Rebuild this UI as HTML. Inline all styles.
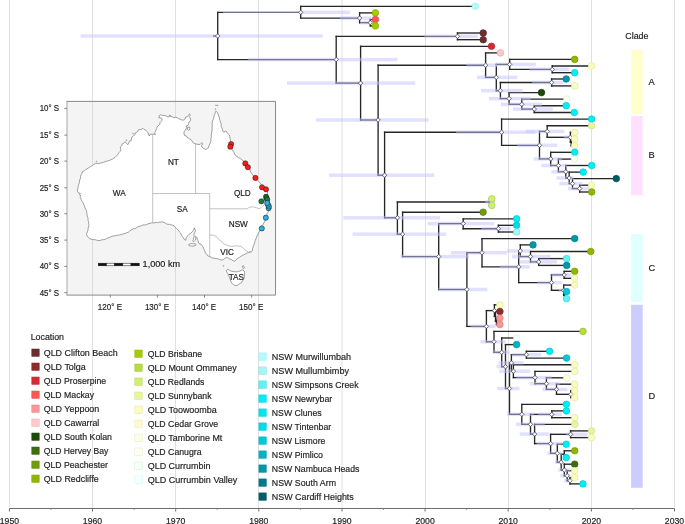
<!DOCTYPE html><html><head><meta charset="utf-8"><style>html,body{margin:0;padding:0;background:#fff;}svg{display:block;will-change:transform;}text{font-family:"Liberation Sans",sans-serif;fill:#222;stroke:#222;stroke-width:0.18px;}</style></head><body>
<svg width="685" height="524" viewBox="0 0 685 524">
<g stroke="#e0e0e0" stroke-width="1" shape-rendering="crispEdges">
<line x1="9.5" y1="0" x2="9.5" y2="508"/>
<line x1="92.5" y1="0" x2="92.5" y2="508"/>
<line x1="175.5" y1="0" x2="175.5" y2="508"/>
<line x1="258.5" y1="0" x2="258.5" y2="508"/>
<line x1="425.5" y1="0" x2="425.5" y2="508"/>
<line x1="508.5" y1="0" x2="508.5" y2="508"/>
<line x1="591.5" y1="0" x2="591.5" y2="508"/>
<line x1="674.5" y1="0" x2="674.5" y2="508"/>
</g>
<line x1="342.0" y1="0" x2="342.0" y2="508" stroke="#e0e0e0" stroke-width="1"/>
<rect x="67.0" y="101.4" width="208.5" height="193.70000000000002" fill="#f3f3f3" fill-opacity="0.9"/>
<g stroke="#dcdcdc" stroke-width="1" shape-rendering="crispEdges">
<line x1="92.5" y1="101.4" x2="92.5" y2="295.1"/>
<line x1="175.5" y1="101.4" x2="175.5" y2="295.1"/>
<line x1="258.5" y1="101.4" x2="258.5" y2="295.1"/>
</g>
<path d="M89.9,238.8 L88.5,237.5 L87.2,236.1 L86.7,234.8 L86.7,233.4 L87.5,231.6 L88.1,229.8 L88.0,228.4 L88.6,227.1 L88.7,225.7 L89.0,224.3 L88.5,223.0 L88.6,221.6 L88.0,220.3 L88.1,218.9 L87.8,217.4 L87.2,216.0 L87.0,214.6 L86.9,213.1 L86.7,211.6 L86.4,210.2 L85.4,209.0 L84.9,207.6 L84.5,206.2 L83.9,204.8 L83.4,203.4 L82.5,202.1 L81.8,200.8 L81.1,199.6 L80.9,198.2 L80.0,197.1 L80.6,195.4 L79.3,194.6 L80.4,193.3 L78.6,193.0 L77.7,191.6 L77.3,189.9 L78.0,188.2 L78.2,186.3 L78.7,184.4 L79.4,182.6 L79.5,181.0 L79.9,179.5 L80.5,178.1 L80.7,176.3 L81.2,174.5 L82.0,173.2 L82.3,171.8 L84.5,170.8 L85.6,169.7 L86.9,169.0 L88.1,168.1 L89.3,167.5 L90.4,166.7 L91.6,166.1 L92.7,165.4 L93.9,164.2 L95.4,163.6 L97.2,163.3 L99.0,163.6 L100.4,163.0 L102.0,162.9 L103.5,162.3 L105.0,161.8 L106.5,161.2 L108.1,160.9 L109.6,160.4 L111.1,159.7 L112.6,159.1 L113.7,158.1 L115.1,157.4 L116.2,156.3 L117.4,155.1 L118.3,153.8 L119.0,152.6 L120.0,151.6 L120.8,150.5 L120.6,148.7 L120.3,147.0 L121.7,145.9 L122.0,144.1 L123.7,143.3 L124.9,141.8 L126.7,143.5 L127.8,144.7 L129.0,142.4 L129.5,141.0 L131.3,140.6 L131.4,138.9 L131.6,137.4 L132.8,136.5 L133.7,135.4 L135.0,134.7 L135.2,133.0 L136.6,132.4 L137.8,131.4 L138.4,129.8 L140.1,129.5 L141.7,129.2 L143.0,128.4 L144.2,129.7 L145.9,130.1 L147.0,131.6 L148.3,133.0 L148.3,134.8 L149.5,136.0 L150.0,134.2 L152.6,134.2 L154.0,134.2 L155.3,134.8 L154.7,132.4 L155.6,131.2 L156.0,129.9 L156.6,128.6 L157.0,127.2 L157.7,126.0 L159.0,125.2 L159.9,124.1 L160.0,122.5 L161.1,121.3 L162.3,120.2 L161.7,118.4 L160.3,117.8 L158.8,117.8 L159.4,115.5 L160.9,114.6 L162.5,115.7 L164.1,115.3 L166.4,116.1 L167.8,116.7 L169.3,116.7 L169.9,114.9 L170.5,116.5 L172.2,116.7 L173.9,117.6 L175.7,117.3 L177.6,117.8 L179.2,119.0 L180.8,119.4 L182.2,120.2 L183.8,119.9 L185.1,119.0 L185.6,117.2 L187.4,116.7 L188.5,115.2 L189.7,113.8 L190.0,115.4 L189.2,116.7 L190.2,117.9 L190.7,119.2 L190.3,120.8 L189.0,122.0 L188.6,123.7 L187.9,125.3 L186.2,126.0 L186.5,127.4 L186.1,128.8 L185.7,130.1 L184.2,131.2 L183.9,133.0 L184.5,135.4 L186.4,136.0 L187.4,137.7 L188.6,138.2 L189.7,139.0 L190.9,139.5 L192.0,140.9 L192.7,142.4 L194.0,143.3 L195.5,143.8 L197.8,144.4 L200.2,144.4 L201.9,142.6 L202.5,143.8 L201.4,146.1 L202.4,147.5 L203.7,148.5 L206.0,149.6 L207.1,148.6 L208.4,147.9 L208.9,146.3 L209.4,144.7 L210.1,143.2 L210.7,141.8 L211.0,140.4 L210.8,138.8 L211.3,137.4 L211.2,135.9 L211.4,134.4 L211.6,133.0 L211.9,131.5 L212.0,130.0 L212.2,128.6 L212.1,127.1 L212.4,125.7 L212.1,124.3 L212.3,123.0 L212.4,121.6 L212.9,120.1 L213.6,118.7 L213.9,117.0 L214.2,115.2 L215.1,113.6 L215.4,111.7 L215.9,111.1 L217.7,112.8 L218.2,114.6 L218.9,116.4 L219.3,117.7 L219.6,119.1 L220.0,120.4 L220.3,122.0 L221.1,123.5 L221.2,125.1 L221.3,126.5 L221.8,127.9 L222.4,129.2 L222.7,130.7 L223.5,132.1 L224.8,131.7 L225.9,130.9 L226.8,132.1 L227.6,133.3 L229.4,135.0 L229.8,136.7 L230.0,138.5 L230.5,140.2 L230.5,142.0 L230.6,143.6 L231.2,145.1 L231.1,146.7 L232.0,148.4 L232.3,150.2 L233.6,151.9 L234.3,153.0 L234.6,154.3 L235.9,155.3 L236.9,156.7 L238.7,157.6 L240.3,158.6 L241.9,159.6 L243.1,161.0 L244.6,162.2 L245.5,163.8 L246.6,164.6 L247.6,165.5 L248.4,166.7 L249.1,168.1 L250.0,169.4 L250.3,171.0 L251.0,172.6 L252.2,173.9 L252.9,175.2 L254.0,176.3 L254.6,177.7 L255.7,178.5 L256.6,179.6 L257.5,180.6 L258.7,181.6 L259.9,182.6 L260.8,183.9 L261.8,185.1 L262.8,186.1 L264.2,186.8 L265.6,188.0 L267.0,189.2 L267.3,190.6 L267.5,192.0 L267.5,193.7 L267.0,195.4 L267.6,197.7 L268.2,199.0 L268.3,200.3 L268.5,201.7 L268.9,203.0 L268.7,204.4 L269.1,205.7 L269.2,207.4 L268.9,209.0 L268.7,210.8 L267.8,212.4 L267.0,213.6 L266.8,215.1 L266.4,216.4 L266.2,217.8 L265.5,219.1 L265.1,220.4 L264.7,221.9 L263.7,223.1 L263.1,224.4 L262.1,225.4 L261.5,226.6 L261.0,227.9 L260.4,229.1 L259.9,230.5 L259.2,231.8 L258.4,233.1 L257.9,234.7 L256.9,236.1 L256.4,237.7 L255.9,239.0 L255.2,240.3 L255.0,241.8 L254.4,243.1 L254.2,244.5 L253.3,245.7 L253.1,247.1 L252.5,248.7 L252.6,250.4 L251.1,251.7 L249.7,251.9 L248.5,252.6 L247.0,253.1 L245.5,253.8 L244.2,254.7 L242.4,255.4 L240.8,256.4 L239.7,257.3 L238.5,257.9 L237.3,258.6 L236.1,260.0 L234.8,261.2 L232.9,260.6 L231.3,259.5 L229.9,259.1 L228.7,258.2 L227.4,257.9 L226.2,257.3 L224.5,258.6 L223.3,259.5 L221.9,260.1 L220.6,259.7 L219.3,259.5 L218.0,258.8 L216.4,258.7 L215.0,258.2 L212.5,258.1 L211.1,257.1 L209.5,256.6 L207.5,255.6 L206.6,253.9 L205.1,252.7 L204.9,251.1 L204.1,249.7 L203.5,248.2 L203.1,246.7 L201.9,245.6 L201.1,244.2 L199.8,243.9 L198.6,243.2 L198.1,240.8 L197.4,239.4 L197.1,237.8 L195.6,236.3 L195.8,238.1 L195.6,239.8 L194.6,240.7 L193.7,241.7 L192.7,240.8 L193.5,239.4 L193.7,237.8 L194.1,236.5 L194.0,235.1 L194.1,233.8 L194.9,232.3 L195.6,230.8 L195.0,229.3 L194.1,227.9 L193.9,229.4 L193.2,230.8 L191.9,232.0 L190.7,233.3 L189.3,234.1 L188.2,235.3 L187.0,236.4 L186.2,237.8 L185.7,240.3 L184.2,239.3 L183.3,237.7 L182.2,236.3 L181.5,234.8 L180.8,233.3 L179.6,232.2 L178.8,230.8 L177.7,229.5 L176.3,228.4 L175.2,227.2 L174.3,225.9 L172.9,225.2 L171.3,224.9 L169.6,224.3 L167.9,224.4 L166.5,223.8 L165.2,223.1 L163.9,222.4 L162.6,222.0 L161.2,222.0 L159.9,222.1 L158.6,222.4 L157.3,222.6 L156.0,222.4 L154.4,222.9 L152.7,222.9 L151.3,222.9 L150.0,223.4 L148.4,223.7 L146.9,224.4 L145.6,225.0 L144.1,224.8 L142.8,225.1 L141.5,225.6 L140.2,226.2 L138.8,226.4 L137.4,227.0 L136.2,228.0 L134.9,228.7 L133.3,228.8 L132.0,229.6 L130.7,230.4 L129.3,231.4 L128.0,232.5 L126.6,232.7 L125.3,233.4 L123.9,233.6 L122.6,234.3 L121.2,234.3 L119.9,234.9 L118.5,235.1 L117.1,235.2 L115.6,235.6 L114.1,236.0 L112.6,236.1 L111.1,236.6 L109.7,237.5 L108.1,237.9 L106.6,238.6 L105.1,239.3 L103.5,239.7 L101.9,239.7 L100.5,240.4 L99.0,240.6 L97.6,240.4 L96.3,240.1 L95.0,239.6 L93.6,239.7 L91.7,239.3 Z" fill="#fff" stroke="#555" stroke-width="0.55"/>
<path d="M226.6,270.2 L227.9,269.3 L230.0,270.6 L231.4,271.3 L233.0,271.5 L234.7,271.7 L236.5,271.9 L238.2,271.5 L239.9,271.0 L241.2,270.4 L242.5,269.8 L244.2,271.0 L244.6,272.7 L244.6,274.5 L244.4,276.0 L244.2,277.5 L243.5,279.3 L242.5,280.9 L241.8,282.2 L240.8,283.1 L239.4,283.8 L238.2,284.8 L237.0,285.4 L235.6,285.7 L233.5,284.8 L231.8,283.1 L231.1,281.8 L230.5,280.5 L230.2,279.2 L229.7,277.9 L229.2,276.6 L228.5,275.1 L227.9,273.6 L226.6,271.9 Z" fill="#fff" stroke="#555" stroke-width="0.55"/>
<path d="M188.5,244.6 L189.8,244.1 L191.0,243.6 L192.3,243.7 L193.7,243.8 L195.0,243.7 L196.2,244.8 L194.7,245.6 L193.0,246.1 L191.3,246.0 L189.5,245.9 Z" fill="#fff" stroke="#555" stroke-width="0.55"/>
<path d="M242.3,266.2 L243.6,265.8 L244.4,267.8 L243.4,268.6 L242.7,267.5 Z" fill="#fff" stroke="#555" stroke-width="0.55"/>
<path d="M187.6,127.3 L189.6,127.0 L190.0,129.2 L188.4,130.4 L187.4,129.2 Z" fill="#fff" stroke="#555" stroke-width="0.55"/>
<circle cx="215.4" cy="109.1" r="0.45" fill="none" stroke="#666" stroke-width="0.45"/>
<circle cx="216.0" cy="105.3" r="0.45" fill="none" stroke="#666" stroke-width="0.45"/>
<circle cx="217.5" cy="105.4" r="0.45" fill="none" stroke="#666" stroke-width="0.45"/>
<circle cx="126.5" cy="140.2" r="0.45" fill="none" stroke="#666" stroke-width="0.45"/>
<circle cx="133.0" cy="133.3" r="0.45" fill="none" stroke="#666" stroke-width="0.45"/>
<circle cx="96.5" cy="161.4" r="0.45" fill="none" stroke="#666" stroke-width="0.45"/>
<circle cx="223.6" cy="265.9" r="0.45" fill="none" stroke="#666" stroke-width="0.45"/>
<path d="M152.7,134.2 L152.7,222.9" fill="none" stroke="#9a9a9a" stroke-width="0.6"/>
<path d="M152.7,193.5 L209.7,193.5" fill="none" stroke="#9a9a9a" stroke-width="0.6"/>
<path d="M195.6,143.8 L195.6,193.5" fill="none" stroke="#9a9a9a" stroke-width="0.6"/>
<path d="M209.7,193.5 L209.7,256.8" fill="none" stroke="#9a9a9a" stroke-width="0.6"/>
<path d="M209.7,208.8 L247.1,208.8 L249.1,207.3 L253.1,206.8 L256.4,207.7 L259.1,208.8 L261.1,207.7 L262.4,206.4 L264.5,204.5" fill="none" stroke="#9a9a9a" stroke-width="0.6"/>
<path d="M209.7,235.1 L213.0,235.1 L216.4,236.4 L218.4,239.1 L221.0,241.1 L223.7,243.8 L227.7,245.5 L231.7,246.4 L237.1,245.8 L241.1,246.4 L243.7,248.4 L246.4,251.1 L249.1,252.4 L251.5,252.3" fill="none" stroke="#9a9a9a" stroke-width="0.6"/>
<text x="119.3" y="196.1" font-size="8.2" text-anchor="middle">WA</text>
<text x="173.4" y="165.2" font-size="8.2" text-anchor="middle">NT</text>
<text x="182.2" y="212.1" font-size="8.2" text-anchor="middle">SA</text>
<text x="242.3" y="196.1" font-size="8.2" text-anchor="middle">QLD</text>
<text x="238.3" y="226.9" font-size="8.2" text-anchor="middle">NSW</text>
<text x="227.1" y="255.4" font-size="8.2" text-anchor="middle">VIC</text>
<text x="236.3" y="280.2" font-size="8.2" text-anchor="middle">TAS</text>
<circle cx="231.1" cy="144.1" r="2.6" fill="#ff1a1a" stroke="#111" stroke-width="0.5"/>
<circle cx="230.3" cy="146.7" r="2.6" fill="#ff1a1a" stroke="#111" stroke-width="0.5"/>
<circle cx="245.3" cy="163.4" r="2.6" fill="#ff1a1a" stroke="#111" stroke-width="0.5"/>
<circle cx="247.9" cy="167.2" r="2.6" fill="#ff1a1a" stroke="#111" stroke-width="0.5"/>
<circle cx="255.4" cy="177.9" r="2.6" fill="#ff1a1a" stroke="#111" stroke-width="0.5"/>
<circle cx="262.0" cy="187.3" r="2.6" fill="#ff1a1a" stroke="#111" stroke-width="0.5"/>
<circle cx="266.0" cy="189.3" r="2.6" fill="#ff1a1a" stroke="#111" stroke-width="0.5"/>
<circle cx="266.0" cy="196.7" r="2.6" fill="#1e7a40" stroke="#111" stroke-width="0.5"/>
<circle cx="266.6" cy="198.2" r="2.6" fill="#1e7a40" stroke="#111" stroke-width="0.5"/>
<circle cx="267.2" cy="199.6" r="2.6" fill="#1e7a40" stroke="#111" stroke-width="0.5"/>
<circle cx="261.4" cy="201.3" r="2.6" fill="#1e7a40" stroke="#111" stroke-width="0.5"/>
<circle cx="265.8" cy="217.7" r="2.6" fill="#30aee0" stroke="#111" stroke-width="0.5"/>
<circle cx="261.8" cy="228.4" r="2.6" fill="#30aee0" stroke="#111" stroke-width="0.5"/>
<circle cx="268.6" cy="208.2" r="2.6" fill="#30aee0" stroke="#111" stroke-width="0.5"/>
<circle cx="268.9" cy="206.5" r="2.6" fill="#30aee0" stroke="#111" stroke-width="0.5"/>
<circle cx="268.0" cy="204.7" r="2.6" fill="#30aee0" stroke="#111" stroke-width="0.5"/>
<circle cx="267.2" cy="203.0" r="2.6" fill="#30aee0" stroke="#111" stroke-width="0.5"/>
<rect x="98.30" y="263.2" width="8.18" height="2.6" fill="#111" stroke="#111" stroke-width="0.5"/>
<rect x="106.48" y="263.2" width="8.18" height="2.6" fill="#fff" stroke="#111" stroke-width="0.5"/>
<rect x="114.66" y="263.2" width="8.18" height="2.6" fill="#111" stroke="#111" stroke-width="0.5"/>
<rect x="122.84" y="263.2" width="8.18" height="2.6" fill="#fff" stroke="#111" stroke-width="0.5"/>
<rect x="131.02" y="263.2" width="8.18" height="2.6" fill="#111" stroke="#111" stroke-width="0.5"/>
<text x="142.6" y="267.3" font-size="8.6" textLength="37.5" lengthAdjust="spacingAndGlyphs">1,000 km</text>
<path d="M67.0,295.1 L67.0,101.4" fill="none" stroke="#a8a8a8" stroke-width="1.0"/>
<path d="M66.5,101.4 L275.5,101.4 L275.5,295.1 L66.5,295.1" fill="none" stroke="#8a8a8a" stroke-width="1.0"/>
<line x1="64.3" y1="108.4" x2="67.0" y2="108.4" stroke="#555" stroke-width="0.7"/>
<text x="59.1" y="111.2" font-size="8.8" text-anchor="end" textLength="19.4" lengthAdjust="spacingAndGlyphs">10° S</text>
<line x1="64.3" y1="135.1" x2="67.0" y2="135.1" stroke="#555" stroke-width="0.7"/>
<text x="59.1" y="137.9" font-size="8.8" text-anchor="end" textLength="19.4" lengthAdjust="spacingAndGlyphs">15° S</text>
<line x1="64.3" y1="161.1" x2="67.0" y2="161.1" stroke="#555" stroke-width="0.7"/>
<text x="59.1" y="163.9" font-size="8.8" text-anchor="end" textLength="19.4" lengthAdjust="spacingAndGlyphs">20° S</text>
<line x1="64.3" y1="187.8" x2="67.0" y2="187.8" stroke="#555" stroke-width="0.7"/>
<text x="59.1" y="190.6" font-size="8.8" text-anchor="end" textLength="19.4" lengthAdjust="spacingAndGlyphs">25° S</text>
<line x1="64.3" y1="213.7" x2="67.0" y2="213.7" stroke="#555" stroke-width="0.7"/>
<text x="59.1" y="216.5" font-size="8.8" text-anchor="end" textLength="19.4" lengthAdjust="spacingAndGlyphs">30° S</text>
<line x1="64.3" y1="240.1" x2="67.0" y2="240.1" stroke="#555" stroke-width="0.7"/>
<text x="59.1" y="242.9" font-size="8.8" text-anchor="end" textLength="19.4" lengthAdjust="spacingAndGlyphs">35° S</text>
<line x1="64.3" y1="266.4" x2="67.0" y2="266.4" stroke="#555" stroke-width="0.7"/>
<text x="59.1" y="269.2" font-size="8.8" text-anchor="end" textLength="19.4" lengthAdjust="spacingAndGlyphs">40° S</text>
<line x1="64.3" y1="292.7" x2="67.0" y2="292.7" stroke="#555" stroke-width="0.7"/>
<text x="59.1" y="295.5" font-size="8.8" text-anchor="end" textLength="19.4" lengthAdjust="spacingAndGlyphs">45° S</text>
<line x1="110.3" y1="295.1" x2="110.3" y2="297.6" stroke="#555" stroke-width="0.7"/>
<text x="109.9" y="309.6" font-size="8.8" text-anchor="middle" textLength="24.2" lengthAdjust="spacingAndGlyphs">120° E</text>
<line x1="157.4" y1="295.1" x2="157.4" y2="297.6" stroke="#555" stroke-width="0.7"/>
<text x="157.0" y="309.6" font-size="8.8" text-anchor="middle" textLength="24.2" lengthAdjust="spacingAndGlyphs">130° E</text>
<line x1="204.5" y1="295.1" x2="204.5" y2="297.6" stroke="#555" stroke-width="0.7"/>
<text x="204.1" y="309.6" font-size="8.8" text-anchor="middle" textLength="24.2" lengthAdjust="spacingAndGlyphs">140° E</text>
<line x1="251.6" y1="295.1" x2="251.6" y2="297.6" stroke="#555" stroke-width="0.7"/>
<text x="251.2" y="309.6" font-size="8.8" text-anchor="middle" textLength="24.2" lengthAdjust="spacingAndGlyphs">150° E</text>
<g stroke="#262626" stroke-width="1.35" fill="none" stroke-linecap="square">
<line x1="213.7" y1="36" x2="217.7" y2="36"/>
<line x1="217.7" y1="12.3" x2="217.7" y2="59.6"/>
<line x1="217.7" y1="12.3" x2="300.7" y2="12.3"/>
<line x1="217.7" y1="59.6" x2="336.2" y2="59.6"/>
<line x1="300.7" y1="6.3" x2="300.7" y2="18.1"/>
<line x1="300.7" y1="6.3" x2="475.3" y2="6.3"/>
<line x1="300.7" y1="18.1" x2="359.6" y2="18.1"/>
<line x1="359.6" y1="12.9" x2="359.6" y2="22.7"/>
<line x1="359.6" y1="12.9" x2="375.4" y2="12.9"/>
<line x1="359.6" y1="22.7" x2="370.3" y2="22.7"/>
<line x1="370.3" y1="19.5" x2="370.3" y2="25.9"/>
<line x1="370.3" y1="19.5" x2="375.4" y2="19.5"/>
<line x1="370.3" y1="25.9" x2="375.4" y2="25.9"/>
<line x1="336.2" y1="36.3" x2="336.2" y2="83.1"/>
<line x1="336.2" y1="36.3" x2="457.5" y2="36.3"/>
<line x1="336.2" y1="83.1" x2="360.6" y2="83.1"/>
<line x1="457.5" y1="33.0" x2="457.5" y2="39.7"/>
<line x1="457.5" y1="33.0" x2="483.2" y2="33.0"/>
<line x1="457.5" y1="39.7" x2="483.2" y2="39.7"/>
<line x1="360.6" y1="46.3" x2="360.6" y2="120.0"/>
<line x1="360.6" y1="46.3" x2="491.5" y2="46.3"/>
<line x1="360.6" y1="120.0" x2="378.1" y2="120.0"/>
<line x1="378.1" y1="65.2" x2="378.1" y2="175.2"/>
<line x1="378.1" y1="65.2" x2="485.6" y2="65.2"/>
<line x1="378.1" y1="175.2" x2="384.6" y2="175.2"/>
<line x1="485.6" y1="52.9" x2="485.6" y2="77.4"/>
<line x1="485.6" y1="52.9" x2="500.4" y2="52.9"/>
<line x1="485.6" y1="77.4" x2="496.3" y2="77.4"/>
<line x1="496.3" y1="64.4" x2="496.3" y2="90.7"/>
<line x1="496.3" y1="64.4" x2="509.7" y2="64.4"/>
<line x1="496.3" y1="90.7" x2="500.4" y2="90.7"/>
<line x1="509.7" y1="59.4" x2="509.7" y2="69.4"/>
<line x1="509.7" y1="59.4" x2="574.7" y2="59.4"/>
<line x1="509.7" y1="69.4" x2="552.3" y2="69.4"/>
<line x1="552.3" y1="66.0" x2="552.3" y2="72.7"/>
<line x1="552.3" y1="66.0" x2="591.6" y2="66.0"/>
<line x1="552.3" y1="72.7" x2="574.7" y2="72.7"/>
<line x1="500.4" y1="82.5" x2="500.4" y2="98.6"/>
<line x1="500.4" y1="82.5" x2="551.6" y2="82.5"/>
<line x1="500.4" y1="98.6" x2="509.1" y2="98.6"/>
<line x1="551.6" y1="79.0" x2="551.6" y2="85.9"/>
<line x1="551.6" y1="79.0" x2="566.2" y2="79.0"/>
<line x1="551.6" y1="85.9" x2="574.7" y2="85.9"/>
<line x1="509.1" y1="92.6" x2="509.1" y2="104.3"/>
<line x1="509.1" y1="92.6" x2="541.5" y2="92.6"/>
<line x1="509.1" y1="104.3" x2="521.8" y2="104.3"/>
<line x1="521.8" y1="99.1" x2="521.8" y2="109.1"/>
<line x1="521.8" y1="99.1" x2="566.9" y2="99.1"/>
<line x1="521.8" y1="109.1" x2="534.3" y2="109.1"/>
<line x1="534.3" y1="105.7" x2="534.3" y2="112.5"/>
<line x1="534.3" y1="105.7" x2="566.2" y2="105.7"/>
<line x1="534.3" y1="112.5" x2="574.3" y2="112.5"/>
<line x1="384.6" y1="132.2" x2="384.6" y2="217.8"/>
<line x1="384.6" y1="132.2" x2="501.6" y2="132.2"/>
<line x1="384.6" y1="217.8" x2="397.4" y2="217.8"/>
<line x1="501.6" y1="119.1" x2="501.6" y2="145.3"/>
<line x1="501.6" y1="119.1" x2="591.6" y2="119.1"/>
<line x1="501.6" y1="145.3" x2="539.5" y2="145.3"/>
<line x1="539.5" y1="131.4" x2="539.5" y2="158.9"/>
<line x1="539.5" y1="131.4" x2="547.2" y2="131.4"/>
<line x1="539.5" y1="158.9" x2="550.7" y2="158.9"/>
<line x1="547.2" y1="125.7" x2="547.2" y2="137.3"/>
<line x1="547.2" y1="125.7" x2="591.6" y2="125.7"/>
<line x1="547.2" y1="137.3" x2="570.4" y2="137.3"/>
<line x1="570.4" y1="132.4" x2="570.4" y2="142.3"/>
<line x1="570.4" y1="132.4" x2="574.7" y2="132.4"/>
<line x1="570.4" y1="142.3" x2="571.2" y2="142.3"/>
<line x1="571.2" y1="139.0" x2="571.2" y2="145.7"/>
<line x1="571.2" y1="139.0" x2="574.7" y2="139.0"/>
<line x1="571.2" y1="145.7" x2="574.7" y2="145.7"/>
<line x1="550.7" y1="152.3" x2="550.7" y2="165.5"/>
<line x1="550.7" y1="152.3" x2="574.7" y2="152.3"/>
<line x1="550.7" y1="165.5" x2="558.4" y2="165.5"/>
<line x1="558.4" y1="159.1" x2="558.4" y2="171.8"/>
<line x1="558.4" y1="159.1" x2="574.5" y2="159.1"/>
<line x1="558.4" y1="171.8" x2="565.8" y2="171.8"/>
<line x1="565.8" y1="165.5" x2="565.8" y2="178.0"/>
<line x1="565.8" y1="165.5" x2="591.7" y2="165.5"/>
<line x1="565.8" y1="178.0" x2="569.2" y2="178.0"/>
<line x1="569.2" y1="172.1" x2="569.2" y2="183.6"/>
<line x1="569.2" y1="172.1" x2="583.2" y2="172.1"/>
<line x1="569.2" y1="183.6" x2="572.5" y2="183.6"/>
<line x1="572.5" y1="178.6" x2="572.5" y2="188.6"/>
<line x1="572.5" y1="178.6" x2="616.3" y2="178.6"/>
<line x1="572.5" y1="188.6" x2="579.7" y2="188.6"/>
<line x1="579.7" y1="185.2" x2="579.7" y2="192.0"/>
<line x1="579.7" y1="185.2" x2="591.7" y2="185.2"/>
<line x1="579.7" y1="192.0" x2="591.7" y2="192.0"/>
<line x1="397.4" y1="202.0" x2="397.4" y2="234.2"/>
<line x1="397.4" y1="202.0" x2="489.5" y2="202.0"/>
<line x1="397.4" y1="234.2" x2="402.6" y2="234.2"/>
<line x1="489.5" y1="198.7" x2="489.5" y2="205.6"/>
<line x1="489.5" y1="198.7" x2="491.8" y2="198.7"/>
<line x1="489.5" y1="205.6" x2="491.8" y2="205.6"/>
<line x1="402.6" y1="212.2" x2="402.6" y2="256.6"/>
<line x1="402.6" y1="212.2" x2="483.1" y2="212.2"/>
<line x1="402.6" y1="256.6" x2="438.7" y2="256.6"/>
<line x1="438.7" y1="223.6" x2="438.7" y2="289.5"/>
<line x1="438.7" y1="223.6" x2="463.2" y2="223.6"/>
<line x1="438.7" y1="289.5" x2="466.9" y2="289.5"/>
<line x1="463.2" y1="218.8" x2="463.2" y2="228.7"/>
<line x1="463.2" y1="218.8" x2="516.6" y2="218.8"/>
<line x1="463.2" y1="228.7" x2="498.4" y2="228.7"/>
<line x1="498.4" y1="225.3" x2="498.4" y2="232.0"/>
<line x1="498.4" y1="225.3" x2="516.6" y2="225.3"/>
<line x1="498.4" y1="232.0" x2="516.7" y2="232.0"/>
<line x1="466.9" y1="252.7" x2="466.9" y2="326.4"/>
<line x1="466.9" y1="252.7" x2="482.0" y2="252.7"/>
<line x1="466.9" y1="326.4" x2="486.4" y2="326.4"/>
<line x1="482.0" y1="238.6" x2="482.0" y2="266.8"/>
<line x1="482.0" y1="238.6" x2="574.7" y2="238.6"/>
<line x1="482.0" y1="266.8" x2="518.7" y2="266.8"/>
<line x1="518.7" y1="251.0" x2="518.7" y2="282.6"/>
<line x1="518.7" y1="251.0" x2="520.3" y2="251.0"/>
<line x1="518.7" y1="282.6" x2="551.5" y2="282.6"/>
<line x1="520.3" y1="244.9" x2="520.3" y2="256.6"/>
<line x1="520.3" y1="244.9" x2="533.0" y2="244.9"/>
<line x1="520.3" y1="256.6" x2="530.5" y2="256.6"/>
<line x1="530.5" y1="251.5" x2="530.5" y2="261.9"/>
<line x1="530.5" y1="251.5" x2="590.8" y2="251.5"/>
<line x1="530.5" y1="261.9" x2="538.7" y2="261.9"/>
<line x1="538.7" y1="258.6" x2="538.7" y2="265.4"/>
<line x1="538.7" y1="258.6" x2="566.6" y2="258.6"/>
<line x1="538.7" y1="265.4" x2="566.7" y2="265.4"/>
<line x1="551.5" y1="274.9" x2="551.5" y2="290.3"/>
<line x1="551.5" y1="274.9" x2="564.2" y2="274.9"/>
<line x1="551.5" y1="290.3" x2="563.7" y2="290.3"/>
<line x1="564.2" y1="271.3" x2="564.2" y2="278.3"/>
<line x1="564.2" y1="271.3" x2="574.7" y2="271.3"/>
<line x1="564.2" y1="278.3" x2="574.7" y2="278.3"/>
<line x1="563.7" y1="285.1" x2="563.7" y2="295.2"/>
<line x1="563.7" y1="285.1" x2="574.7" y2="285.1"/>
<line x1="563.7" y1="295.2" x2="564.5" y2="295.2"/>
<line x1="564.5" y1="291.6" x2="564.5" y2="298.7"/>
<line x1="564.5" y1="291.6" x2="566.6" y2="291.6"/>
<line x1="564.5" y1="298.7" x2="566.6" y2="298.7"/>
<line x1="486.4" y1="310.6" x2="486.4" y2="341.8"/>
<line x1="486.4" y1="310.6" x2="494.4" y2="310.6"/>
<line x1="486.4" y1="341.8" x2="494.0" y2="341.8"/>
<line x1="494.4" y1="304.8" x2="494.4" y2="316.4"/>
<line x1="494.4" y1="304.8" x2="499.9" y2="304.8"/>
<line x1="494.4" y1="316.4" x2="495.5" y2="316.4"/>
<line x1="495.5" y1="311.5" x2="495.5" y2="321.4"/>
<line x1="495.5" y1="311.5" x2="499.9" y2="311.5"/>
<line x1="495.5" y1="321.4" x2="496.5" y2="321.4"/>
<line x1="496.5" y1="318.2" x2="496.5" y2="324.6"/>
<line x1="496.5" y1="318.2" x2="499.9" y2="318.2"/>
<line x1="496.5" y1="324.6" x2="499.9" y2="324.6"/>
<line x1="494.0" y1="331.4" x2="494.0" y2="352.3"/>
<line x1="494.0" y1="331.4" x2="583.0" y2="331.4"/>
<line x1="494.0" y1="352.3" x2="501.7" y2="352.3"/>
<line x1="501.7" y1="338.0" x2="501.7" y2="366.7"/>
<line x1="501.7" y1="338.0" x2="516.8" y2="338.0"/>
<line x1="501.7" y1="366.7" x2="505.5" y2="366.7"/>
<line x1="505.5" y1="344.6" x2="505.5" y2="388.5"/>
<line x1="505.5" y1="344.6" x2="516.6" y2="344.6"/>
<line x1="505.5" y1="388.5" x2="509.5" y2="388.5"/>
<line x1="509.5" y1="362.9" x2="509.5" y2="414.3"/>
<line x1="509.5" y1="362.9" x2="511.4" y2="362.9"/>
<line x1="509.5" y1="414.3" x2="521.8" y2="414.3"/>
<line x1="511.4" y1="354.7" x2="511.4" y2="371.2"/>
<line x1="511.4" y1="354.7" x2="526.4" y2="354.7"/>
<line x1="511.4" y1="371.2" x2="513.4" y2="371.2"/>
<line x1="526.4" y1="351.3" x2="526.4" y2="358.1"/>
<line x1="526.4" y1="351.3" x2="549.6" y2="351.3"/>
<line x1="526.4" y1="358.1" x2="566.6" y2="358.1"/>
<line x1="513.4" y1="364.7" x2="513.4" y2="377.6"/>
<line x1="513.4" y1="364.7" x2="574.7" y2="364.7"/>
<line x1="513.4" y1="377.6" x2="535.0" y2="377.6"/>
<line x1="535.0" y1="371.4" x2="535.0" y2="383.7"/>
<line x1="535.0" y1="371.4" x2="574.7" y2="371.4"/>
<line x1="535.0" y1="383.7" x2="546.4" y2="383.7"/>
<line x1="546.4" y1="377.8" x2="546.4" y2="389.4"/>
<line x1="546.4" y1="377.8" x2="566.7" y2="377.8"/>
<line x1="546.4" y1="389.4" x2="556.5" y2="389.4"/>
<line x1="556.5" y1="384.2" x2="556.5" y2="394.3"/>
<line x1="556.5" y1="384.2" x2="574.7" y2="384.2"/>
<line x1="556.5" y1="394.3" x2="570.8" y2="394.3"/>
<line x1="570.8" y1="390.8" x2="570.8" y2="397.6"/>
<line x1="570.8" y1="390.8" x2="574.7" y2="390.8"/>
<line x1="570.8" y1="397.6" x2="574.7" y2="397.6"/>
<line x1="521.8" y1="404.3" x2="521.8" y2="424.3"/>
<line x1="521.8" y1="404.3" x2="566.4" y2="404.3"/>
<line x1="521.8" y1="424.3" x2="530.5" y2="424.3"/>
<line x1="530.5" y1="414.4" x2="530.5" y2="434.1"/>
<line x1="530.5" y1="414.4" x2="551.8" y2="414.4"/>
<line x1="530.5" y1="434.1" x2="534.6" y2="434.1"/>
<line x1="551.8" y1="410.9" x2="551.8" y2="417.7"/>
<line x1="551.8" y1="410.9" x2="566.4" y2="410.9"/>
<line x1="551.8" y1="417.7" x2="574.7" y2="417.7"/>
<line x1="534.6" y1="424.3" x2="534.6" y2="443.6"/>
<line x1="534.6" y1="424.3" x2="574.8" y2="424.3"/>
<line x1="534.6" y1="443.6" x2="550.6" y2="443.6"/>
<line x1="550.6" y1="434.3" x2="550.6" y2="453.3"/>
<line x1="550.6" y1="434.3" x2="570.6" y2="434.3"/>
<line x1="550.6" y1="453.3" x2="557.3" y2="453.3"/>
<line x1="570.6" y1="430.9" x2="570.6" y2="437.6"/>
<line x1="570.6" y1="430.9" x2="591.5" y2="430.9"/>
<line x1="570.6" y1="437.6" x2="591.5" y2="437.6"/>
<line x1="557.3" y1="444.2" x2="557.3" y2="462.2"/>
<line x1="557.3" y1="444.2" x2="566.2" y2="444.2"/>
<line x1="557.3" y1="462.2" x2="561.2" y2="462.2"/>
<line x1="561.2" y1="454.2" x2="561.2" y2="470.0"/>
<line x1="561.2" y1="454.2" x2="564.3" y2="454.2"/>
<line x1="561.2" y1="470.0" x2="564.3" y2="470.0"/>
<line x1="564.3" y1="450.8" x2="564.3" y2="457.6"/>
<line x1="564.3" y1="450.8" x2="574.7" y2="450.8"/>
<line x1="564.3" y1="457.6" x2="566.2" y2="457.6"/>
<line x1="564.3" y1="464.2" x2="564.3" y2="475.7"/>
<line x1="564.3" y1="464.2" x2="574.7" y2="464.2"/>
<line x1="564.3" y1="475.7" x2="567.2" y2="475.7"/>
<line x1="567.2" y1="470.7" x2="567.2" y2="480.7"/>
<line x1="567.2" y1="470.7" x2="574.7" y2="470.7"/>
<line x1="567.2" y1="480.7" x2="570.0" y2="480.7"/>
<line x1="570.0" y1="477.6" x2="570.0" y2="483.9"/>
<line x1="570.0" y1="477.6" x2="574.7" y2="477.6"/>
<line x1="570.0" y1="483.9" x2="582.9" y2="483.9"/>
</g>
<g fill="#c4c4ff" fill-opacity="0.5">
<rect x="80.6" y="34.25" width="242.0" height="3.5"/>
<rect x="300.0" y="10.55" width="49.8" height="3.5"/>
<rect x="340.0" y="16.35" width="31.0" height="3.5"/>
<rect x="360.0" y="20.95" width="12.0" height="3.5"/>
<rect x="248.0" y="57.85" width="149.4" height="3.5"/>
<rect x="424.4" y="34.55" width="53.4" height="3.5"/>
<rect x="287.0" y="81.35" width="128.2" height="3.5"/>
<rect x="315.8" y="118.25" width="112.8" height="3.5"/>
<rect x="466.4" y="63.45" width="30.6" height="3.5"/>
<rect x="477.0" y="75.65" width="40.4" height="3.5"/>
<rect x="496.0" y="62.65" width="39.8" height="3.5"/>
<rect x="529.2" y="67.65" width="39.7" height="3.5"/>
<rect x="481.0" y="88.95" width="41.6" height="3.5"/>
<rect x="532.1" y="80.75" width="31.4" height="3.5"/>
<rect x="488.9" y="96.85" width="41.8" height="3.5"/>
<rect x="501.0" y="102.55" width="41.0" height="3.5"/>
<rect x="513.0" y="107.35" width="39.8" height="3.5"/>
<rect x="329.0" y="173.45" width="105.2" height="3.5"/>
<rect x="456.1" y="130.45" width="79.4" height="3.5"/>
<rect x="517.1" y="143.55" width="40.0" height="3.5"/>
<rect x="526.0" y="129.65" width="38.4" height="3.5"/>
<rect x="563.6" y="135.55" width="5.8" height="3.5"/>
<rect x="533.6" y="157.15" width="28.4" height="3.5"/>
<rect x="541.5" y="163.75" width="25.5" height="3.5"/>
<rect x="551.5" y="170.05" width="16.5" height="3.5"/>
<rect x="556.5" y="176.25" width="17.2" height="3.5"/>
<rect x="559.4" y="181.85" width="22.9" height="3.5"/>
<rect x="568.0" y="186.85" width="21.4" height="3.5"/>
<rect x="343.3" y="216.05" width="96.7" height="3.5"/>
<rect x="485.2" y="200.25" width="9.8" height="3.5"/>
<rect x="352.5" y="232.45" width="93.8" height="3.5"/>
<rect x="400.5" y="254.85" width="68.5" height="3.5"/>
<rect x="427.7" y="221.85" width="66.3" height="3.5"/>
<rect x="481.3" y="226.95" width="29.4" height="3.5"/>
<rect x="450.9" y="250.95" width="56.1" height="3.5"/>
<rect x="438.4" y="287.75" width="48.9" height="3.5"/>
<rect x="500.0" y="265.05" width="29.8" height="3.5"/>
<rect x="507.0" y="249.25" width="23.0" height="3.5"/>
<rect x="511.8" y="254.85" width="38.4" height="3.5"/>
<rect x="519.8" y="260.15" width="37.2" height="3.5"/>
<rect x="537.2" y="280.85" width="24.8" height="3.5"/>
<rect x="551.5" y="273.15" width="19.8" height="3.5"/>
<rect x="558.9" y="288.55" width="5.6" height="3.5"/>
<rect x="470.5" y="324.65" width="25.1" height="3.5"/>
<rect x="480.4" y="340.05" width="25.2" height="3.5"/>
<rect x="492.6" y="350.55" width="17.1" height="3.5"/>
<rect x="496.6" y="364.95" width="10.9" height="3.5"/>
<rect x="497.2" y="386.75" width="22.4" height="3.5"/>
<rect x="498.5" y="361.15" width="25.0" height="3.5"/>
<rect x="511.7" y="352.95" width="29.5" height="3.5"/>
<rect x="499.2" y="369.45" width="30.9" height="3.5"/>
<rect x="516.3" y="375.85" width="35.5" height="3.5"/>
<rect x="530.1" y="381.95" width="29.5" height="3.5"/>
<rect x="542.6" y="387.65" width="24.9" height="3.5"/>
<rect x="507.2" y="412.55" width="27.0" height="3.5"/>
<rect x="515.8" y="422.55" width="28.9" height="3.5"/>
<rect x="538.1" y="412.65" width="23.7" height="3.5"/>
<rect x="519.7" y="432.35" width="29.6" height="3.5"/>
<rect x="536.8" y="441.85" width="25.0" height="3.5"/>
<rect x="566.0" y="432.55" width="21.4" height="3.5"/>
<rect x="547.4" y="451.55" width="14.4" height="3.5"/>
<rect x="555.0" y="460.45" width="7.7" height="3.5"/>
<rect x="558.4" y="468.25" width="11.9" height="3.5"/>
<rect x="560.3" y="473.95" width="10.0" height="3.5"/>
<rect x="564.1" y="478.95" width="7.2" height="3.5"/>
<rect x="223.0" y="11.40" width="77.0" height="1.8"/>
</g>
<g fill="#fff" stroke="#333" stroke-width="0.7">
<path d="M215.50,36.0 L217.7,33.80 L219.90,36.0 L217.7,38.20 Z"/>
<path d="M298.50,12.3 L300.7,10.10 L302.90,12.3 L300.7,14.50 Z"/>
<path d="M357.40,18.1 L359.6,15.90 L361.80,18.1 L359.6,20.30 Z"/>
<path d="M368.10,22.7 L370.3,20.50 L372.50,22.7 L370.3,24.90 Z"/>
<path d="M334.00,59.6 L336.2,57.40 L338.40,59.6 L336.2,61.80 Z"/>
<path d="M455.30,36.3 L457.5,34.10 L459.70,36.3 L457.5,38.50 Z"/>
<path d="M358.40,83.1 L360.6,80.90 L362.80,83.1 L360.6,85.30 Z"/>
<path d="M375.90,120.0 L378.1,117.80 L380.30,120.0 L378.1,122.20 Z"/>
<path d="M483.40,65.2 L485.6,63.00 L487.80,65.2 L485.6,67.40 Z"/>
<path d="M494.10,77.4 L496.3,75.20 L498.50,77.4 L496.3,79.60 Z"/>
<path d="M507.50,64.4 L509.7,62.20 L511.90,64.4 L509.7,66.60 Z"/>
<path d="M550.10,69.4 L552.3,67.20 L554.50,69.4 L552.3,71.60 Z"/>
<path d="M498.20,90.7 L500.4,88.50 L502.60,90.7 L500.4,92.90 Z"/>
<path d="M549.40,82.5 L551.6,80.30 L553.80,82.5 L551.6,84.70 Z"/>
<path d="M506.90,98.6 L509.1,96.40 L511.30,98.6 L509.1,100.80 Z"/>
<path d="M519.60,104.3 L521.8,102.10 L524.00,104.3 L521.8,106.50 Z"/>
<path d="M532.10,109.1 L534.3,106.90 L536.50,109.1 L534.3,111.30 Z"/>
<path d="M382.40,175.2 L384.6,173.00 L386.80,175.2 L384.6,177.40 Z"/>
<path d="M499.40,132.2 L501.6,130.00 L503.80,132.2 L501.6,134.40 Z"/>
<path d="M537.30,145.3 L539.5,143.10 L541.70,145.3 L539.5,147.50 Z"/>
<path d="M545.00,131.4 L547.2,129.20 L549.40,131.4 L547.2,133.60 Z"/>
<path d="M568.20,137.3 L570.4,135.10 L572.60,137.3 L570.4,139.50 Z"/>
<path d="M548.50,158.9 L550.7,156.70 L552.90,158.9 L550.7,161.10 Z"/>
<path d="M556.20,165.5 L558.4,163.30 L560.60,165.5 L558.4,167.70 Z"/>
<path d="M563.60,171.8 L565.8,169.60 L568.00,171.8 L565.8,174.00 Z"/>
<path d="M567.00,178.0 L569.2,175.80 L571.40,178.0 L569.2,180.20 Z"/>
<path d="M570.30,183.6 L572.5,181.40 L574.70,183.6 L572.5,185.80 Z"/>
<path d="M577.50,188.6 L579.7,186.40 L581.90,188.6 L579.7,190.80 Z"/>
<path d="M395.20,217.8 L397.4,215.60 L399.60,217.8 L397.4,220.00 Z"/>
<path d="M400.40,234.2 L402.6,232.00 L404.80,234.2 L402.6,236.40 Z"/>
<path d="M436.50,256.6 L438.7,254.40 L440.90,256.6 L438.7,258.80 Z"/>
<path d="M461.00,223.6 L463.2,221.40 L465.40,223.6 L463.2,225.80 Z"/>
<path d="M496.20,228.7 L498.4,226.50 L500.60,228.7 L498.4,230.90 Z"/>
<path d="M464.70,289.5 L466.9,287.30 L469.10,289.5 L466.9,291.70 Z"/>
<path d="M479.80,252.7 L482.0,250.50 L484.20,252.7 L482.0,254.90 Z"/>
<path d="M516.50,266.8 L518.7,264.60 L520.90,266.8 L518.7,269.00 Z"/>
<path d="M518.10,251.0 L520.3,248.80 L522.50,251.0 L520.3,253.20 Z"/>
<path d="M528.30,256.6 L530.5,254.40 L532.70,256.6 L530.5,258.80 Z"/>
<path d="M536.50,261.9 L538.7,259.70 L540.90,261.9 L538.7,264.10 Z"/>
<path d="M549.30,282.6 L551.5,280.40 L553.70,282.6 L551.5,284.80 Z"/>
<path d="M562.00,274.9 L564.2,272.70 L566.40,274.9 L564.2,277.10 Z"/>
<path d="M561.50,290.3 L563.7,288.10 L565.90,290.3 L563.7,292.50 Z"/>
<path d="M484.20,326.4 L486.4,324.20 L488.60,326.4 L486.4,328.60 Z"/>
<path d="M492.20,310.6 L494.4,308.40 L496.60,310.6 L494.4,312.80 Z"/>
<path d="M491.80,341.8 L494.0,339.60 L496.20,341.8 L494.0,344.00 Z"/>
<path d="M499.50,352.3 L501.7,350.10 L503.90,352.3 L501.7,354.50 Z"/>
<path d="M503.30,366.7 L505.5,364.50 L507.70,366.7 L505.5,368.90 Z"/>
<path d="M507.30,388.5 L509.5,386.30 L511.70,388.5 L509.5,390.70 Z"/>
<path d="M509.20,362.9 L511.4,360.70 L513.60,362.9 L511.4,365.10 Z"/>
<path d="M524.20,354.7 L526.4,352.50 L528.60,354.7 L526.4,356.90 Z"/>
<path d="M511.20,371.2 L513.4,369.00 L515.60,371.2 L513.4,373.40 Z"/>
<path d="M532.80,377.6 L535.0,375.40 L537.20,377.6 L535.0,379.80 Z"/>
<path d="M544.20,383.7 L546.4,381.50 L548.60,383.7 L546.4,385.90 Z"/>
<path d="M554.30,389.4 L556.5,387.20 L558.70,389.4 L556.5,391.60 Z"/>
<path d="M568.60,394.3 L570.8,392.10 L573.00,394.3 L570.8,396.50 Z"/>
<path d="M519.60,414.3 L521.8,412.10 L524.00,414.3 L521.8,416.50 Z"/>
<path d="M528.30,424.3 L530.5,422.10 L532.70,424.3 L530.5,426.50 Z"/>
<path d="M549.60,414.4 L551.8,412.20 L554.00,414.4 L551.8,416.60 Z"/>
<path d="M532.40,434.1 L534.6,431.90 L536.80,434.1 L534.6,436.30 Z"/>
<path d="M548.40,443.6 L550.6,441.40 L552.80,443.6 L550.6,445.80 Z"/>
<path d="M568.40,434.3 L570.6,432.10 L572.80,434.3 L570.6,436.50 Z"/>
<path d="M555.10,453.3 L557.3,451.10 L559.50,453.3 L557.3,455.50 Z"/>
<path d="M559.00,462.2 L561.2,460.00 L563.40,462.2 L561.2,464.40 Z"/>
<path d="M562.10,470.0 L564.3,467.80 L566.50,470.0 L564.3,472.20 Z"/>
<path d="M565.00,475.7 L567.2,473.50 L569.40,475.7 L567.2,477.90 Z"/>
<path d="M567.80,480.7 L570.0,478.50 L572.20,480.7 L570.0,482.90 Z"/>
</g>
<circle cx="475.3" cy="6.3" r="3.3" fill="#b2fbfb" stroke="#9eeeee" stroke-width="0.7"/>
<circle cx="375.4" cy="12.9" r="3.3" fill="#a6cc00" stroke="#8dad00" stroke-width="0.7"/>
<circle cx="375.4" cy="19.5" r="3.3" fill="#ff5656" stroke="#d84949" stroke-width="0.7"/>
<circle cx="375.4" cy="25.9" r="3.3" fill="#a6cc00" stroke="#8dad00" stroke-width="0.7"/>
<circle cx="483.2" cy="33.0" r="3.3" fill="#6b2d2d" stroke="#5a2626" stroke-width="0.7"/>
<circle cx="483.2" cy="39.7" r="3.3" fill="#6b2d2d" stroke="#5a2626" stroke-width="0.7"/>
<circle cx="491.5" cy="46.3" r="3.3" fill="#d42c36" stroke="#b4252d" stroke-width="0.7"/>
<circle cx="500.4" cy="52.9" r="3.3" fill="#ffcaca" stroke="#d8abab" stroke-width="0.7"/>
<circle cx="574.7" cy="59.4" r="3.3" fill="#8db700" stroke="#779b00" stroke-width="0.7"/>
<circle cx="591.6" cy="66.0" r="3.3" fill="#fcfcc0" stroke="#dcea9c" stroke-width="0.7"/>
<circle cx="574.7" cy="72.7" r="3.3" fill="#00eef5" stroke="#00cad0" stroke-width="0.7"/>
<circle cx="566.2" cy="79.0" r="3.3" fill="#0098a8" stroke="#00818e" stroke-width="0.7"/>
<circle cx="574.7" cy="85.9" r="3.3" fill="#fcfcc0" stroke="#dcea9c" stroke-width="0.7"/>
<circle cx="541.5" cy="92.6" r="3.3" fill="#1e4b0d" stroke="#193f0b" stroke-width="0.7"/>
<circle cx="566.9" cy="99.1" r="3.3" fill="#fefef6" stroke="#e4eac4" stroke-width="0.7"/>
<circle cx="566.2" cy="105.7" r="3.3" fill="#00eef5" stroke="#00cad0" stroke-width="0.7"/>
<circle cx="574.3" cy="112.5" r="3.3" fill="#00eef5" stroke="#00cad0" stroke-width="0.7"/>
<circle cx="591.6" cy="119.1" r="3.3" fill="#00eef5" stroke="#00cad0" stroke-width="0.7"/>
<circle cx="591.6" cy="125.7" r="3.3" fill="#e8f4a0" stroke="#cfe27e" stroke-width="0.7"/>
<circle cx="574.7" cy="132.4" r="3.3" fill="#fcfcc0" stroke="#dcea9c" stroke-width="0.7"/>
<circle cx="574.7" cy="139.0" r="3.3" fill="#fcfcc0" stroke="#dcea9c" stroke-width="0.7"/>
<circle cx="574.7" cy="145.7" r="3.3" fill="#fcfcc0" stroke="#dcea9c" stroke-width="0.7"/>
<circle cx="574.7" cy="152.3" r="3.3" fill="#00eef5" stroke="#00cad0" stroke-width="0.7"/>
<circle cx="574.5" cy="159.1" r="3.3" fill="#fbfffb" stroke="#c4f5c4" stroke-width="0.7"/>
<circle cx="591.7" cy="165.5" r="3.3" fill="#00eef5" stroke="#00cad0" stroke-width="0.7"/>
<circle cx="583.2" cy="172.1" r="3.3" fill="#00eef5" stroke="#00cad0" stroke-width="0.7"/>
<circle cx="616.3" cy="178.6" r="3.3" fill="#005e6a" stroke="#004f5a" stroke-width="0.7"/>
<circle cx="591.7" cy="185.2" r="3.3" fill="#fcfcc0" stroke="#dcea9c" stroke-width="0.7"/>
<circle cx="591.7" cy="192.0" r="3.3" fill="#8db700" stroke="#779b00" stroke-width="0.7"/>
<circle cx="491.8" cy="198.7" r="3.3" fill="#cfef72" stroke="#afcb60" stroke-width="0.7"/>
<circle cx="491.8" cy="205.6" r="3.3" fill="#cfef72" stroke="#afcb60" stroke-width="0.7"/>
<circle cx="483.1" cy="212.2" r="3.3" fill="#6f9c0e" stroke="#5e840b" stroke-width="0.7"/>
<circle cx="516.6" cy="218.8" r="3.3" fill="#00eef5" stroke="#00cad0" stroke-width="0.7"/>
<circle cx="516.6" cy="225.3" r="3.3" fill="#00dde9" stroke="#00bbc6" stroke-width="0.7"/>
<circle cx="516.7" cy="232.0" r="3.3" fill="#a2f7f7" stroke="#89d1d1" stroke-width="0.7"/>
<circle cx="574.7" cy="238.6" r="3.3" fill="#0098a8" stroke="#00818e" stroke-width="0.7"/>
<circle cx="533.0" cy="244.9" r="3.3" fill="#0098a8" stroke="#00818e" stroke-width="0.7"/>
<circle cx="590.8" cy="251.5" r="3.3" fill="#8db700" stroke="#779b00" stroke-width="0.7"/>
<circle cx="566.6" cy="258.6" r="3.3" fill="#5ff2f6" stroke="#50cdd1" stroke-width="0.7"/>
<circle cx="566.7" cy="265.4" r="3.3" fill="#0098a8" stroke="#00818e" stroke-width="0.7"/>
<circle cx="574.7" cy="271.3" r="3.3" fill="#8db700" stroke="#779b00" stroke-width="0.7"/>
<circle cx="574.7" cy="278.3" r="3.3" fill="#fcfcc0" stroke="#dcea9c" stroke-width="0.7"/>
<circle cx="574.7" cy="285.1" r="3.3" fill="#fcfcc0" stroke="#dcea9c" stroke-width="0.7"/>
<circle cx="566.6" cy="291.6" r="3.3" fill="#00c9da" stroke="#00aab9" stroke-width="0.7"/>
<circle cx="566.6" cy="298.7" r="3.3" fill="#5ff2f6" stroke="#50cdd1" stroke-width="0.7"/>
<circle cx="499.9" cy="304.8" r="3.3" fill="#fcfcc0" stroke="#dcea9c" stroke-width="0.7"/>
<circle cx="499.9" cy="311.5" r="3.3" fill="#8e2c2c" stroke="#782525" stroke-width="0.7"/>
<circle cx="499.9" cy="318.2" r="3.3" fill="#fd9696" stroke="#d77f7f" stroke-width="0.7"/>
<circle cx="499.9" cy="324.6" r="3.3" fill="#fd9696" stroke="#d77f7f" stroke-width="0.7"/>
<circle cx="583.0" cy="331.4" r="3.3" fill="#b6dd3c" stroke="#9abb33" stroke-width="0.7"/>
<circle cx="516.8" cy="338.0" r="3.3" fill="#fbffff" stroke="#bff5f5" stroke-width="0.7"/>
<circle cx="516.6" cy="344.6" r="3.3" fill="#00b3c3" stroke="#0098a5" stroke-width="0.7"/>
<circle cx="549.6" cy="351.3" r="3.3" fill="#00eef5" stroke="#00cad0" stroke-width="0.7"/>
<circle cx="566.6" cy="358.1" r="3.3" fill="#00c9da" stroke="#00aab9" stroke-width="0.7"/>
<circle cx="574.7" cy="364.7" r="3.3" fill="#fcfcc0" stroke="#dcea9c" stroke-width="0.7"/>
<circle cx="574.7" cy="371.4" r="3.3" fill="#fcfcc0" stroke="#dcea9c" stroke-width="0.7"/>
<circle cx="566.7" cy="377.8" r="3.3" fill="#fcfde8" stroke="#e6eabc" stroke-width="0.7"/>
<circle cx="574.7" cy="384.2" r="3.3" fill="#fcfcc0" stroke="#dcea9c" stroke-width="0.7"/>
<circle cx="574.7" cy="390.8" r="3.3" fill="#fcfcc0" stroke="#dcea9c" stroke-width="0.7"/>
<circle cx="574.7" cy="397.6" r="3.3" fill="#fcfcc0" stroke="#dcea9c" stroke-width="0.7"/>
<circle cx="566.4" cy="404.3" r="3.3" fill="#00eef5" stroke="#00cad0" stroke-width="0.7"/>
<circle cx="566.4" cy="410.9" r="3.3" fill="#00eef5" stroke="#00cad0" stroke-width="0.7"/>
<circle cx="574.7" cy="417.7" r="3.3" fill="#fcfcc0" stroke="#dcea9c" stroke-width="0.7"/>
<circle cx="574.8" cy="424.3" r="3.3" fill="#e8f4a0" stroke="#cfe27e" stroke-width="0.7"/>
<circle cx="591.5" cy="430.9" r="3.3" fill="#e8f4a0" stroke="#cfe27e" stroke-width="0.7"/>
<circle cx="591.5" cy="437.6" r="3.3" fill="#fcfcc0" stroke="#dcea9c" stroke-width="0.7"/>
<circle cx="566.2" cy="444.2" r="3.3" fill="#00eef5" stroke="#00cad0" stroke-width="0.7"/>
<circle cx="574.7" cy="450.8" r="3.3" fill="#8db700" stroke="#779b00" stroke-width="0.7"/>
<circle cx="566.2" cy="457.6" r="3.3" fill="#00eef5" stroke="#00cad0" stroke-width="0.7"/>
<circle cx="574.7" cy="464.2" r="3.3" fill="#3f6d12" stroke="#355c0f" stroke-width="0.7"/>
<circle cx="574.7" cy="470.7" r="3.3" fill="#fcfcc0" stroke="#dcea9c" stroke-width="0.7"/>
<circle cx="574.7" cy="477.6" r="3.3" fill="#fcfcc0" stroke="#dcea9c" stroke-width="0.7"/>
<circle cx="582.9" cy="483.9" r="3.3" fill="#00eef5" stroke="#00cad0" stroke-width="0.7"/>
<line x1="9.4" y1="508.5" x2="674.5" y2="508.5" stroke="#6e6e6e" stroke-width="1"/>
<line x1="9.4" y1="508.5" x2="9.4" y2="511.5" stroke="#6e6e6e" stroke-width="1"/>
<text x="9.4" y="523.9" font-size="9.1" text-anchor="middle" textLength="19.3" lengthAdjust="spacingAndGlyphs">1950</text>
<line x1="51.0" y1="508.5" x2="51.0" y2="509.7" stroke="#6e6e6e" stroke-width="1"/>
<line x1="92.5" y1="508.5" x2="92.5" y2="511.5" stroke="#6e6e6e" stroke-width="1"/>
<text x="92.5" y="523.9" font-size="9.1" text-anchor="middle" textLength="19.3" lengthAdjust="spacingAndGlyphs">1960</text>
<line x1="134.1" y1="508.5" x2="134.1" y2="509.7" stroke="#6e6e6e" stroke-width="1"/>
<line x1="175.7" y1="508.5" x2="175.7" y2="511.5" stroke="#6e6e6e" stroke-width="1"/>
<text x="175.7" y="523.9" font-size="9.1" text-anchor="middle" textLength="19.3" lengthAdjust="spacingAndGlyphs">1970</text>
<line x1="217.2" y1="508.5" x2="217.2" y2="509.7" stroke="#6e6e6e" stroke-width="1"/>
<line x1="258.8" y1="508.5" x2="258.8" y2="511.5" stroke="#6e6e6e" stroke-width="1"/>
<text x="258.8" y="523.9" font-size="9.1" text-anchor="middle" textLength="19.3" lengthAdjust="spacingAndGlyphs">1980</text>
<line x1="300.4" y1="508.5" x2="300.4" y2="509.7" stroke="#6e6e6e" stroke-width="1"/>
<line x1="342.0" y1="508.5" x2="342.0" y2="511.5" stroke="#6e6e6e" stroke-width="1"/>
<text x="342.0" y="523.9" font-size="9.1" text-anchor="middle" textLength="19.3" lengthAdjust="spacingAndGlyphs">1990</text>
<line x1="383.5" y1="508.5" x2="383.5" y2="509.7" stroke="#6e6e6e" stroke-width="1"/>
<line x1="425.1" y1="508.5" x2="425.1" y2="511.5" stroke="#6e6e6e" stroke-width="1"/>
<text x="425.1" y="523.9" font-size="9.1" text-anchor="middle" textLength="19.3" lengthAdjust="spacingAndGlyphs">2000</text>
<line x1="466.7" y1="508.5" x2="466.7" y2="509.7" stroke="#6e6e6e" stroke-width="1"/>
<line x1="508.2" y1="508.5" x2="508.2" y2="511.5" stroke="#6e6e6e" stroke-width="1"/>
<text x="508.2" y="523.9" font-size="9.1" text-anchor="middle" textLength="19.3" lengthAdjust="spacingAndGlyphs">2010</text>
<line x1="549.8" y1="508.5" x2="549.8" y2="509.7" stroke="#6e6e6e" stroke-width="1"/>
<line x1="591.4" y1="508.5" x2="591.4" y2="511.5" stroke="#6e6e6e" stroke-width="1"/>
<text x="591.4" y="523.9" font-size="9.1" text-anchor="middle" textLength="19.3" lengthAdjust="spacingAndGlyphs">2020</text>
<line x1="632.9" y1="508.5" x2="632.9" y2="509.7" stroke="#6e6e6e" stroke-width="1"/>
<line x1="674.5" y1="508.5" x2="674.5" y2="511.5" stroke="#6e6e6e" stroke-width="1"/>
<text x="674.5" y="523.9" font-size="9.1" text-anchor="middle" textLength="19.3" lengthAdjust="spacingAndGlyphs">2030</text>
<rect x="631.1" y="50" width="11.6" height="64.0" fill="#ffffcc"/>
<text x="648.6" y="84.9" font-size="9.3">A</text>
<rect x="631.1" y="116" width="11.6" height="79.3" fill="#ffe0ff"/>
<text x="648.6" y="158.4" font-size="9.3">B</text>
<rect x="631.1" y="234" width="11.6" height="68.0" fill="#e0ffff"/>
<text x="648.6" y="270.9" font-size="9.3">C</text>
<rect x="631.1" y="304.8" width="11.6" height="183.0" fill="#ccccff"/>
<text x="648.6" y="399.2" font-size="9.3">D</text>
<text x="625.3" y="39.2" font-size="8.9">Clade</text>
<text x="30.7" y="339.5" font-size="9.0" textLength="33.3" lengthAdjust="spacingAndGlyphs">Location</text>
<rect x="31.8" y="349.0" width="7.4" height="7.4" fill="#6b2d2d" stroke="#5e2727" stroke-width="0.5"/>
<text x="43.7" y="355.60" font-size="9.6" textLength="73.9" lengthAdjust="spacingAndGlyphs">QLD Clifton Beach</text>
<rect x="31.8" y="363.0" width="7.4" height="7.4" fill="#8e2c2c" stroke="#7c2626" stroke-width="0.5"/>
<text x="43.7" y="369.60" font-size="9.6" textLength="42.1" lengthAdjust="spacingAndGlyphs">QLD Tolga</text>
<rect x="31.8" y="377.0" width="7.4" height="7.4" fill="#d42c36" stroke="#ba262f" stroke-width="0.5"/>
<text x="43.7" y="383.60" font-size="9.6" textLength="62.5" lengthAdjust="spacingAndGlyphs">QLD Proserpine</text>
<rect x="31.8" y="391.0" width="7.4" height="7.4" fill="#ff5656" stroke="#e04b4b" stroke-width="0.5"/>
<text x="43.7" y="397.60" font-size="9.6" textLength="50.4" lengthAdjust="spacingAndGlyphs">QLD Mackay</text>
<rect x="31.8" y="405.0" width="7.4" height="7.4" fill="#fd9696" stroke="#de8484" stroke-width="0.5"/>
<text x="43.7" y="411.60" font-size="9.6" textLength="55.6" lengthAdjust="spacingAndGlyphs">QLD Yeppoon</text>
<rect x="31.8" y="419.0" width="7.4" height="7.4" fill="#ffcaca" stroke="#e0b1b1" stroke-width="0.5"/>
<text x="43.7" y="425.60" font-size="9.6" textLength="55.6" lengthAdjust="spacingAndGlyphs">QLD Cawarral</text>
<rect x="31.8" y="433.0" width="7.4" height="7.4" fill="#1e4b0d" stroke="#1a420b" stroke-width="0.5"/>
<text x="43.7" y="439.60" font-size="9.6" textLength="68.3" lengthAdjust="spacingAndGlyphs">QLD South Kolan</text>
<rect x="31.8" y="447.0" width="7.4" height="7.4" fill="#3f6d12" stroke="#375f0f" stroke-width="0.5"/>
<text x="43.7" y="453.60" font-size="9.6" textLength="64.7" lengthAdjust="spacingAndGlyphs">QLD Hervey Bay</text>
<rect x="31.8" y="461.0" width="7.4" height="7.4" fill="#6f9c0e" stroke="#61890c" stroke-width="0.5"/>
<text x="43.7" y="467.60" font-size="9.6" textLength="64.2" lengthAdjust="spacingAndGlyphs">QLD Peachester</text>
<rect x="31.8" y="475.0" width="7.4" height="7.4" fill="#8db700" stroke="#7ca100" stroke-width="0.5"/>
<text x="43.7" y="481.60" font-size="9.6" textLength="55.1" lengthAdjust="spacingAndGlyphs">QLD Redcliffe</text>
<rect x="134.8" y="350.0" width="7.4" height="7.4" fill="#a6cc00" stroke="#92b300" stroke-width="0.5"/>
<text x="147.7" y="356.60" font-size="9.6" textLength="54.4" lengthAdjust="spacingAndGlyphs">QLD Brisbane</text>
<rect x="134.8" y="364.0" width="7.4" height="7.4" fill="#b6dd3c" stroke="#a0c234" stroke-width="0.5"/>
<text x="147.7" y="370.60" font-size="9.6" textLength="89.0" lengthAdjust="spacingAndGlyphs">QLD Mount Ommaney</text>
<rect x="134.8" y="378.0" width="7.4" height="7.4" fill="#cfef72" stroke="#b6d264" stroke-width="0.5"/>
<text x="147.7" y="384.60" font-size="9.6" textLength="56.7" lengthAdjust="spacingAndGlyphs">QLD Redlands</text>
<rect x="134.8" y="392.0" width="7.4" height="7.4" fill="#e8f4a0" stroke="#cfe27e" stroke-width="0.5"/>
<text x="147.7" y="398.60" font-size="9.6" textLength="63.8" lengthAdjust="spacingAndGlyphs">QLD Sunnybank</text>
<rect x="134.8" y="406.0" width="7.4" height="7.4" fill="#fcfcc0" stroke="#dcea9c" stroke-width="0.5"/>
<text x="147.7" y="412.60" font-size="9.6" textLength="69.1" lengthAdjust="spacingAndGlyphs">QLD Toowoomba</text>
<rect x="134.8" y="420.0" width="7.4" height="7.4" fill="#fafbd2" stroke="#e8ecb4" stroke-width="0.5"/>
<text x="147.7" y="426.60" font-size="9.6" textLength="70.5" lengthAdjust="spacingAndGlyphs">QLD Cedar Grove</text>
<rect x="134.8" y="434.0" width="7.4" height="7.4" fill="#fcfde8" stroke="#e6eabc" stroke-width="0.5"/>
<text x="147.7" y="440.60" font-size="9.6" textLength="74.6" lengthAdjust="spacingAndGlyphs">QLD Tamborine Mt</text>
<rect x="134.8" y="448.0" width="7.4" height="7.4" fill="#fefef6" stroke="#e4eac4" stroke-width="0.5"/>
<text x="147.7" y="454.60" font-size="9.6" textLength="53.9" lengthAdjust="spacingAndGlyphs">QLD Canugra</text>
<rect x="134.8" y="462.0" width="7.4" height="7.4" fill="#fbfffb" stroke="#c4f5c4" stroke-width="0.5"/>
<text x="147.7" y="468.60" font-size="9.6" textLength="62.7" lengthAdjust="spacingAndGlyphs">QLD Currumbin</text>
<rect x="134.8" y="476.0" width="7.4" height="7.4" fill="#fbffff" stroke="#bff5f5" stroke-width="0.5"/>
<text x="147.7" y="482.60" font-size="9.6" textLength="89.6" lengthAdjust="spacingAndGlyphs">QLD Currumbin Valley</text>
<rect x="258.9" y="352.9" width="7.4" height="7.4" fill="#b2fbfb" stroke="#9eeeee" stroke-width="0.5"/>
<text x="271.8" y="359.50" font-size="9.6" textLength="79.3" lengthAdjust="spacingAndGlyphs">NSW Murwillumbah</text>
<rect x="258.9" y="366.9" width="7.4" height="7.4" fill="#a2f7f7" stroke="#8ed9d9" stroke-width="0.5"/>
<text x="271.8" y="373.50" font-size="9.6" textLength="77.2" lengthAdjust="spacingAndGlyphs">NSW Mullumbimby</text>
<rect x="258.9" y="380.9" width="7.4" height="7.4" fill="#5ff2f6" stroke="#53d4d8" stroke-width="0.5"/>
<text x="271.8" y="387.50" font-size="9.6" textLength="86.7" lengthAdjust="spacingAndGlyphs">NSW Simpsons Creek</text>
<rect x="258.9" y="394.9" width="7.4" height="7.4" fill="#00eef5" stroke="#00d1d7" stroke-width="0.5"/>
<text x="271.8" y="401.50" font-size="9.6" textLength="60.4" lengthAdjust="spacingAndGlyphs">NSW Newrybar</text>
<rect x="258.9" y="408.9" width="7.4" height="7.4" fill="#00e6ef" stroke="#00cad2" stroke-width="0.5"/>
<text x="271.8" y="415.50" font-size="9.6" textLength="49.8" lengthAdjust="spacingAndGlyphs">NSW Clunes</text>
<rect x="258.9" y="422.9" width="7.4" height="7.4" fill="#00dde9" stroke="#00c2cd" stroke-width="0.5"/>
<text x="271.8" y="429.50" font-size="9.6" textLength="59.5" lengthAdjust="spacingAndGlyphs">NSW Tintenbar</text>
<rect x="258.9" y="436.9" width="7.4" height="7.4" fill="#00c9da" stroke="#00b0bf" stroke-width="0.5"/>
<text x="271.8" y="443.50" font-size="9.6" textLength="53.6" lengthAdjust="spacingAndGlyphs">NSW Lismore</text>
<rect x="258.9" y="450.9" width="7.4" height="7.4" fill="#00b3c3" stroke="#009dab" stroke-width="0.5"/>
<text x="271.8" y="457.50" font-size="9.6" textLength="51.2" lengthAdjust="spacingAndGlyphs">NSW Pimlico</text>
<rect x="258.9" y="464.9" width="7.4" height="7.4" fill="#0098a8" stroke="#008593" stroke-width="0.5"/>
<text x="271.8" y="471.50" font-size="9.6" textLength="87.6" lengthAdjust="spacingAndGlyphs">NSW Nambuca Heads</text>
<rect x="258.9" y="478.9" width="7.4" height="7.4" fill="#007b8a" stroke="#006c79" stroke-width="0.5"/>
<text x="271.8" y="485.50" font-size="9.6" textLength="64.2" lengthAdjust="spacingAndGlyphs">NSW South Arm</text>
<rect x="258.9" y="492.9" width="7.4" height="7.4" fill="#005e6a" stroke="#00525d" stroke-width="0.5"/>
<text x="271.8" y="499.50" font-size="9.6" textLength="82.0" lengthAdjust="spacingAndGlyphs">NSW Cardiff Heights</text>
</svg></body></html>
